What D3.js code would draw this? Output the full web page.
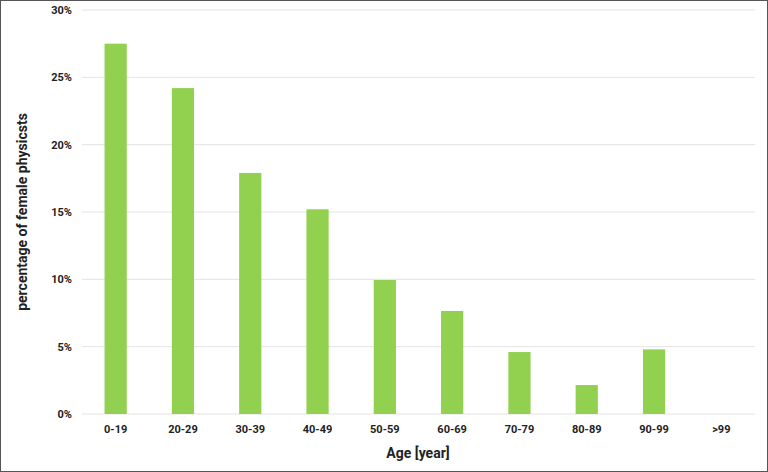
<!DOCTYPE html><html><head><meta charset="utf-8"><script src="https://d3js.org/d3.v7.min.js"></script>
<style>body{margin:0}svg{display:block;font-family:Roboto,sans-serif}</style></head><body><svg width="768" height="472"></svg><script>
const categories=["0-19","20-29","30-39","40-49","50-59","60-69","70-79","80-89","90-99",">99"];
const values=[27.5,24.2,17.9,15.2,9.95,7.65,4.6,2.15,4.8,0];
const yTicks=[0,5,10,15,20,25,30];
const svg=d3.select("svg");
svg.append("rect").attr("x",0.5).attr("y",0.5).attr("width",767).attr("height",471).attr("fill","#fff").attr("stroke","#555");
const x=d3.scaleBand().domain(categories).range([82,755]).paddingInner(0.67).paddingOuter(0.335);
const y=d3.scaleLinear().domain([0,30]).range([414,10]);
svg.append("g").selectAll("line").data(yTicks).join("line").attr("x1",82).attr("x2",755).attr("y1",d=>y(d)).attr("y2",d=>y(d)).attr("stroke","#e3e3e3").attr("stroke-width",1);
svg.append("g").selectAll("rect").data(values).join("rect").attr("x",(d,i)=>x(categories[i])).attr("width",x.bandwidth()).attr("y",d=>y(d)).attr("height",d=>y(0)-y(d)).attr("fill","#92d050");
svg.append("g").selectAll("text").data(yTicks).join("text").attr("x",72).attr("y",d=>y(d)+4).attr("text-anchor","end").attr("font-size",11).attr("font-weight","bold").attr("fill","#222").text(d=>d+"%");
svg.append("g").selectAll("text").data(categories).join("text").attr("x",d=>x(d)+x.bandwidth()/2).attr("y",433).attr("text-anchor","middle").attr("font-size",11).attr("font-weight","bold").attr("fill","#222").text(d=>d);
svg.append("text").attr("x",418).attr("y",458).attr("text-anchor","middle").attr("font-size",14).attr("font-weight","bold").attr("fill","#222").text("Age [year]");
svg.append("text").attr("transform","translate(27,212) rotate(-90)").attr("text-anchor","middle").attr("font-size",14).attr("font-weight","bold").attr("fill","#222").text("percentage of female physicsts");
</script></body></html>
